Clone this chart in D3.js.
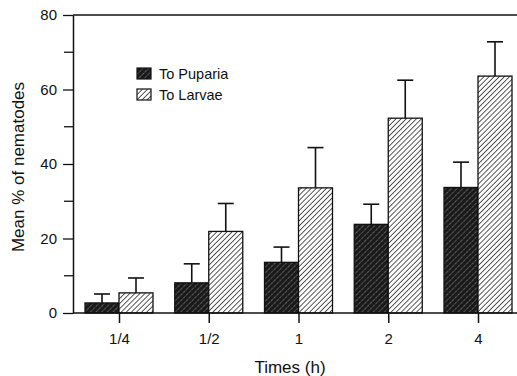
<!DOCTYPE html>
<html>
<head>
<meta charset="utf-8">
<script src="https://cdn.jsdelivr.net/npm/d3@7"></script>
<style>
  body { margin: 0; background: #fff; }
  text { font-family: "Liberation Sans", Arial, sans-serif; fill: #111; }
</style>
</head>
<body>
<div id="chart"></div>
<script>
// chart data
const times = ["1/4", "1/2", "1", "2", "4"];
const seriesNames = ["To Puparia", "To Larvae"];
const pupariaMean = [2.7, 8.1, 13.6, 23.8, 33.7];
const pupariaErr = [2.4, 5.1, 4.1, 5.4, 6.8];
const larvaeMean = [5.4, 21.9, 33.6, 52.3, 63.6];
const larvaeErr = [4.0, 7.5, 10.8, 10.2, 9.2];
const yTicks = [0, 20, 40, 60, 80];

const width = 517, height = 376;
const svg = d3.select("#chart").append("svg")
    .attr("width", width)
    .attr("height", height);

// hatch patterns
const defs = svg.append("defs");
const dark = defs.append("pattern")
    .attr("id", "darkHatch")
    .attr("patternUnits", "userSpaceOnUse")
    .attr("width", 4).attr("height", 4)
    .attr("patternTransform", "rotate(45)");
dark.append("rect").attr("width", 4).attr("height", 4).attr("fill", "#1a1a1a");
dark.append("line")
    .attr("x1", 0).attr("y1", 0).attr("x2", 0).attr("y2", 4)
    .attr("stroke", "#8a8a8a").attr("stroke-width", 1.2)
    .attr("stroke-dasharray", "1.5,1");

const light = defs.append("pattern")
    .attr("id", "lightHatch")
    .attr("patternUnits", "userSpaceOnUse")
    .attr("width", 3.6).attr("height", 3.6)
    .attr("patternTransform", "rotate(45)");
light.append("rect").attr("width", 3.6).attr("height", 3.6).attr("fill", "#fff");
light.append("line")
    .attr("x1", 0).attr("y1", 0).attr("x2", 0).attr("y2", 3.6)
    .attr("stroke", "#222").attr("stroke-width", 1.5);

const fills = ["url(#darkHatch)", "url(#lightHatch)"];

// scales
const x = d3.scalePoint().domain(times).range([119, 478]);
const xSub = d3.scaleBand().domain(seriesNames).range([-34, 34]);
const y = d3.scaleLinear().domain([0, 80]).range([313, 15]);

// top frame line
svg.append("line")
    .attr("x1", 73).attr("x2", width)
    .attr("y1", y(80)).attr("y2", y(80))
    .attr("stroke", "#111").attr("stroke-width", 1.5);

// bars
const rows = [];
times.forEach((t, i) => {
  rows.push({t: t, s: seriesNames[0], v: pupariaMean[i], e: pupariaErr[i], k: 0});
  rows.push({t: t, s: seriesNames[1], v: larvaeMean[i], e: larvaeErr[i], k: 1});
});

// error bars (drawn first, bars cover the lower part)
const err = svg.append("g").attr("stroke", "#111").attr("stroke-width", 1.6);
rows.forEach(d => {
  const cx = x(d.t) + xSub(d.s) + xSub.bandwidth() / 2;
  err.append("line").attr("x1", cx).attr("x2", cx).attr("y1", y(d.v)).attr("y2", y(d.v + d.e));
  err.append("line").attr("x1", cx - 8).attr("x2", cx + 8).attr("y1", y(d.v + d.e)).attr("y2", y(d.v + d.e));
});

svg.append("g").selectAll("rect")
    .data(rows)
  .enter().append("rect")
    .attr("x", d => x(d.t) + xSub(d.s))
    .attr("width", xSub.bandwidth())
    .attr("y", d => y(d.v))
    .attr("height", d => y(0) - y(d.v))
    .attr("fill", d => fills[d.k])
    .attr("stroke", "#111")
    .attr("stroke-width", 1.3);

// y axis
const yAxis = svg.append("g").attr("transform", "translate(73,0)")
    .call(d3.axisLeft(y).tickValues(yTicks).tickSize(10).tickPadding(6).tickSizeOuter(0));
yAxis.selectAll(".tick")
    .filter(d => false);
yAxis.append("g").selectAll("line")
    .data(d3.range(10, 80, 20))
  .enter().append("line")
    .attr("x1", -9).attr("x2", 0)
    .attr("y1", d => y(d)).attr("y2", d => y(d))
    .attr("stroke", "#111").attr("stroke-width", 1.3);
yAxis.select(".domain").attr("stroke", "#111").attr("stroke-width", 1.5);
yAxis.selectAll(".tick line").attr("stroke", "#111").attr("stroke-width", 1.3);
yAxis.selectAll(".tick text").attr("font-size", 15).attr("fill", "#111");

// x axis
const xAxis = svg.append("g").attr("transform", "translate(0," + y(0) + ")")
    .call(d3.axisBottom(x).tickSize(10).tickPadding(10).tickSizeOuter(0));
xAxis.select(".domain").attr("d", "M73,0H" + width).attr("stroke", "#111").attr("stroke-width", 1.5);
xAxis.selectAll(".tick line").attr("stroke", "#111").attr("stroke-width", 1.5);
xAxis.selectAll(".tick text").attr("font-size", 15).attr("fill", "#111");

// axis titles
svg.append("text")
    .attr("x", 290).attr("y", 373)
    .attr("text-anchor", "middle")
    .attr("font-size", 17)
    .text("Times (h)");
svg.append("text")
    .attr("transform", "translate(24,167) rotate(-90)")
    .attr("text-anchor", "middle")
    .attr("font-size", 17)
    .text("Mean % of nematodes");

// legend
const legend = svg.append("g").attr("transform", "translate(137,68)");
seriesNames.forEach((s, i) => {
  const g = legend.append("g").attr("transform", "translate(0," + (i * 21) + ")");
  g.append("rect").attr("width", 14).attr("height", 11)
    .attr("fill", fills[i]).attr("stroke", "#111").attr("stroke-width", 1.2);
  g.append("text").attr("x", 22).attr("y", 11)
    .attr("font-size", 14.5)
    .text(s);
});
</script>
</body>
</html>
